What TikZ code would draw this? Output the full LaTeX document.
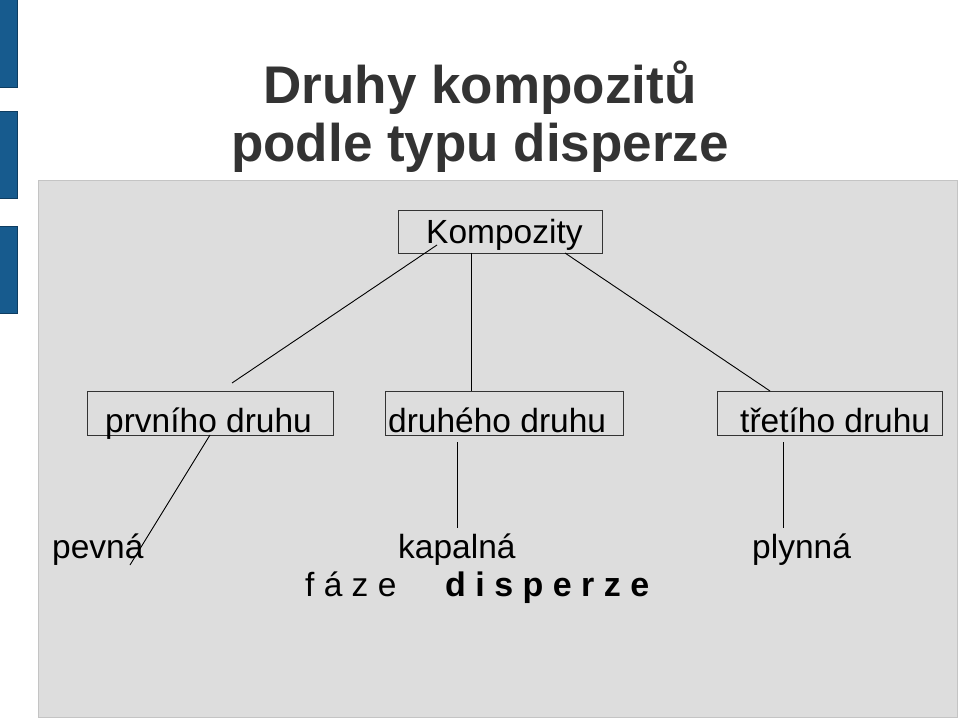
\documentclass[tikz,border=0pt]{standalone}
\usepackage{fontspec}
\setmainfont{Liberation Sans}
\usetikzlibrary{calc}
\definecolor{barblue}{HTML}{175B8E}
\definecolor{bardark}{HTML}{0E3D61}
\definecolor{panel}{HTML}{DDDDDD}
\definecolor{panelline}{HTML}{C4C4C4}
\definecolor{titlegray}{HTML}{333333}
\tikzset{
  bar/.style={fill=barblue,draw=bardark,line width=0.8pt},
  catbox/.style={draw=black!80,line width=0.9pt,inner sep=0pt,anchor=north west},
  lbl/.style={font=\fontsize{33.5}{36}\selectfont,inner sep=0pt,anchor=base west},
  link/.style={draw=black,line width=0.9pt},
  ttl/.style={font=\fontsize{53}{58}\selectfont\bfseries,text=titlegray,inner sep=0pt,anchor=base}
}
\begin{document}
\begin{tikzpicture}[x=1pt,y=-1pt]
\useasboundingbox (0,0) rectangle (959,719);
\fill[white] (0,0) rectangle (959,719);
% side bars
\draw[bar] (-1,-1) rectangle (17,87);
\draw[bar] (-1,111) rectangle (17,198);
\draw[bar] (-1,226) rectangle (17,313);
% panel
\draw[fill=panel,draw=panelline,line width=0.8pt] (38,180) rectangle (957,717);
% title
\node[ttl] (t1) at (480,104) {Druhy kompozitů};
\node[ttl] (t2) at (480,162) {podle typu disperze};
% boxes
\node[catbox,minimum width=204pt,minimum height=43pt] (k) at (398,210) {};
\node[lbl] (kt) at (426,244) {Kompozity};
\node[catbox,minimum width=246pt,minimum height=44pt] (b1) at (87,391) {};
\node[lbl] (b1t) at (105,432) {prvního druhu};
\node[catbox,minimum width=238pt,minimum height=44pt] (b2) at (385,391) {};
\node[lbl] (b2t) at (388,432) {druhého druhu};
\node[catbox,minimum width=225pt,minimum height=44pt] (b3) at (717,391) {};
\node[lbl] (b3t) at (740,432) {třetího druhu};
% leaves
\node[lbl] (l1) at (52,558) {pevná};
\node[lbl] (l2) at (398,558) {kapalná};
\node[lbl] (l3) at (752,558) {plynná};
\node[lbl] (f1) at (305,596) {f á z e};
\node[lbl,font=\fontsize{34}{36}\selectfont\bfseries] (f2) at (445,596) {d i s p e r z e};
% connector ends
\coordinate (k1) at (437,245);
\coordinate (k2) at (471,253);
\coordinate (k3) at (565,253);
\coordinate (e1) at (232,383);
\coordinate (e2) at (471,391);
\coordinate (e3) at (770,391);
\coordinate (p1) at (210,435);
\coordinate (p2) at (457,442);
\coordinate (p3) at (783,442);
\coordinate (q1) at (130,565);
\coordinate (q2) at (457,528);
\coordinate (q3) at (783,528);
\draw[link] (k1) -- (e1);
\draw[link] (k2) -- (e2);
\draw[link] (k3) -- (e3);
\draw[link] (p1) -- (q1);
\draw[link] (p2) -- (q2);
\draw[link] (p3) -- (q3);
\end{tikzpicture}
\end{document}
